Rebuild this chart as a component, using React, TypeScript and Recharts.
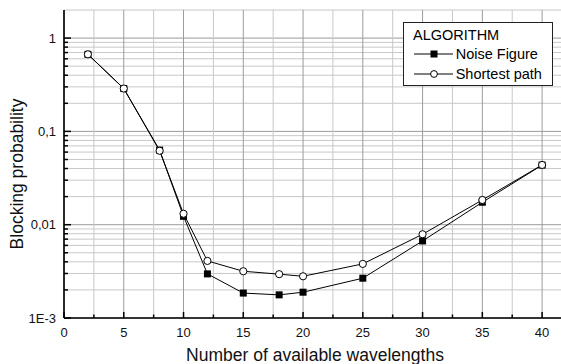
import { LineChart, Line, XAxis, YAxis, CartesianGrid, Legend } from 'recharts';

const wavelengths = [2, 5, 8, 10, 12, 15, 18, 20, 25, 30, 35, 40];
const noiseFigure = [0.67, 0.288, 0.063, 0.0123, 0.00297, 0.00185, 0.00177, 0.00189, 0.00267, 0.0067, 0.0174, 0.0435];
const shortestPath = [0.67, 0.288, 0.062, 0.0131, 0.00409, 0.00317, 0.00295, 0.0028, 0.0038, 0.0079, 0.0184, 0.0437];

const xMajorTicks = [0, 5, 10, 15, 20, 25, 30, 35, 40];
const xMinorTicks = [2.5, 7.5, 12.5, 17.5, 22.5, 27.5, 32.5, 37.5];
const yMajorTicks = [0.001, 0.01, 0.1, 1];
const yMajorLabels = ['1E-3', '0,01', '0,1', '1'];
const yMinorTicks = [
  0.002, 0.003, 0.004, 0.005, 0.006, 0.007, 0.008, 0.009,
  0.02, 0.03, 0.04, 0.05, 0.06, 0.07, 0.08, 0.09,
  0.2, 0.3, 0.4, 0.5, 0.6, 0.7, 0.8, 0.9,
];

const xAllTicks = [...xMajorTicks, ...xMinorTicks].sort((a, b) => a - b);
const yAllTicks = [...yMajorTicks, ...yMinorTicks].sort((a, b) => a - b);

const data = wavelengths.map((w, i) => ({ w, noise: noiseFigure[i], shortest: shortestPath[i] }));

const FONT = '"Liberation Sans", Arial, sans-serif';
const AXIS = '#000';
const GRID_MAJOR = '#9c9c9c';
const GRID_MINOR = '#c8c8c8';

function BottomTick({ x, y, payload }: any) {
  const major = xMajorTicks.includes(payload.value);
  return (
    <g>
      <line x1={x} x2={x} y1={y} y2={y - (major ? 6 : 3.5)} stroke={AXIS} strokeWidth={1.5} />
      {major && (
        <text x={x} y={y + 19} textAnchor="middle" fontSize={13} fontFamily={FONT} fill="#111">
          {payload.value}
        </text>
      )}
    </g>
  );
}

function TopTick({ x, y, payload }: any) {
  const major = xMajorTicks.includes(payload.value);
  return <line x1={x} x2={x} y1={y} y2={y + (major ? 7 : 4)} stroke={AXIS} strokeWidth={1.5} />;
}

function LeftTick({ x, y, payload }: any) {
  const idx = yMajorTicks.indexOf(payload.value);
  const major = idx >= 0;
  return (
    <g>
      <line x1={x} x2={x + (major ? 7 : 4)} y1={y} y2={y} stroke={AXIS} strokeWidth={1.5} />
      {major && (
        <text x={x - 8} y={y + 4.5} textAnchor="end" fontSize={13} fontFamily={FONT} fill="#111">
          {yMajorLabels[idx]}
        </text>
      )}
    </g>
  );
}

function RightTick({ x, y, payload }: any) {
  const major = yMajorTicks.includes(payload.value);
  return <line x1={x} x2={x - (major ? 7 : 4)} y1={y} y2={y} stroke={AXIS} strokeWidth={1.5} />;
}

// grid lines follow the axis ticks; colour by whether the tick is a major one
function HGridLine(p: any) {
  const major = yMajorTicks.includes(yAllTicks[p.index]);
  return (
    <line
      key={`h-${p.index}`}
      x1={p.x1}
      x2={p.x2}
      y1={p.y1}
      y2={p.y2}
      stroke={major ? GRID_MAJOR : GRID_MINOR}
      strokeWidth={1}
    />
  );
}

function VGridLine(p: any) {
  const major = xMajorTicks.includes(xAllTicks[p.index]);
  return (
    <line
      key={`v-${p.index}`}
      x1={p.x1}
      x2={p.x2}
      y1={p.y1}
      y2={p.y2}
      stroke={major ? GRID_MAJOR : GRID_MINOR}
      strokeWidth={1}
    />
  );
}

function SquareDot(props: any) {
  const { cx, cy, index } = props;
  if (cx == null || cy == null) return <g key={index} />;
  return <rect key={index} x={cx - 3.5} y={cy - 3.5} width={7} height={7} fill="#000" />;
}

function CircleDot(props: any) {
  const { cx, cy, index } = props;
  if (cx == null || cy == null) return <g key={index} />;
  return <circle key={index} cx={cx} cy={cy} r={3.6} fill="#fff" stroke="#000" strokeWidth={1} />;
}

function LegendBox({ payload }: any) {
  const items = payload || [];
  return (
    <div
      style={{
        position: 'relative',
        width: 150,
        height: 64,
        boxSizing: 'border-box',
        border: '1px solid #222',
        background: '#fff',
        fontFamily: FONT,
        fontSize: 14.5,
        color: '#000',
      }}
    >
      <div style={{ position: 'absolute', left: 9, top: 3.5, lineHeight: '17px', whiteSpace: 'nowrap' }}>ALGORITHM</div>
      {items.map((entry: any, i: number) => {
        const center = 31.3 + i * 19.7;
        const square = entry.dataKey === 'noise';
        return (
          <div key={entry.value}>
            <svg width={39} height={14} style={{ position: 'absolute', left: 10, top: center - 7 }}>
              <line x1={0} x2={39} y1={7} y2={7} stroke="#000" strokeWidth={1} />
              {square ? (
                <rect x={16.5} y={3.5} width={7} height={7} fill="#000" />
              ) : (
                <circle cx={20} cy={7} r={3.4} fill="#fff" stroke="#000" strokeWidth={1} />
              )}
            </svg>
            <div style={{ position: 'absolute', left: 51.7, top: center - 8.5, lineHeight: '17px', whiteSpace: 'nowrap' }}>
              {entry.value}
            </div>
          </div>
        );
      })}
    </div>
  );
}

export default function App() {
  return (
    <div style={{ position: 'fixed', left: 0, top: 0, width: 561, height: 364, overflow: 'hidden', background: '#fff' }}>
      <LineChart width={566} height={364} data={data} margin={{ top: 10, right: 0, bottom: 0, left: 0 }}>
        <CartesianGrid horizontal={HGridLine} vertical={VGridLine} />
        <XAxis
          dataKey="w"
          type="number"
          domain={[0, 42]}
          allowDataOverflow
          ticks={xAllTicks}
          interval={0}
          height={46}
          tickSize={0}
          tickMargin={0}
          tick={<BottomTick />}
          axisLine={{ stroke: AXIS, strokeWidth: 1.6 }}
          label={(p: any) => (
            <text
              x={p.viewBox.x + p.viewBox.width / 2}
              y={361}
              textAnchor="middle"
              fontSize={17.5}
              fontFamily={FONT}
              fill="#111"
            >
              Number of available wavelengths
            </text>
          )}
        />
        <XAxis
          xAxisId="top"
          orientation="top"
          dataKey="w"
          type="number"
          domain={[0, 42]}
          allowDataOverflow
          ticks={xAllTicks}
          interval={0}
          height={0}
          tickSize={0}
          tickMargin={0}
          tick={<TopTick />}
          axisLine={{ stroke: AXIS, strokeWidth: 1.6 }}
        />
        <YAxis
          type="number"
          scale="log"
          domain={[0.001, 2]}
          allowDataOverflow
          ticks={yAllTicks}
          interval={0}
          width={64}
          tickSize={0}
          tickMargin={0}
          tick={<LeftTick />}
          axisLine={{ stroke: AXIS, strokeWidth: 1.6 }}
          label={(p: any) => {
            const cy = p.viewBox.y + p.viewBox.height / 2 + 10;
            return (
              <text
                x={23}
                y={cy}
                transform={`rotate(-90 23 ${cy})`}
                textAnchor="middle"
                fontSize={17.5}
                fontFamily={FONT}
                fill="#111"
              >
                Blocking probability
              </text>
            );
          }}
        />
        <YAxis
          yAxisId="right"
          orientation="right"
          type="number"
          scale="log"
          domain={[0.001, 2]}
          allowDataOverflow
          ticks={yAllTicks}
          interval={0}
          width={0}
          tickSize={0}
          tickMargin={0}
          tick={<RightTick />}
          axisLine={{ stroke: AXIS, strokeWidth: 1.6 }}
        />
        <Legend
          layout="vertical"
          align="center"
          verticalAlign="middle"
          wrapperStyle={{ left: 403, top: 22, width: 150, height: 64 }}
          content={<LegendBox />}
        />
        <Line
          name="Noise Figure"
          dataKey="noise"
          stroke="#000"
          strokeWidth={1}
          dot={SquareDot}
          activeDot={false}
          isAnimationActive={false}
        />
        <Line
          name="Shortest path"
          dataKey="shortest"
          stroke="#000"
          strokeWidth={1}
          dot={CircleDot}
          activeDot={false}
          isAnimationActive={false}
        />
      </LineChart>
    </div>
  );
}
